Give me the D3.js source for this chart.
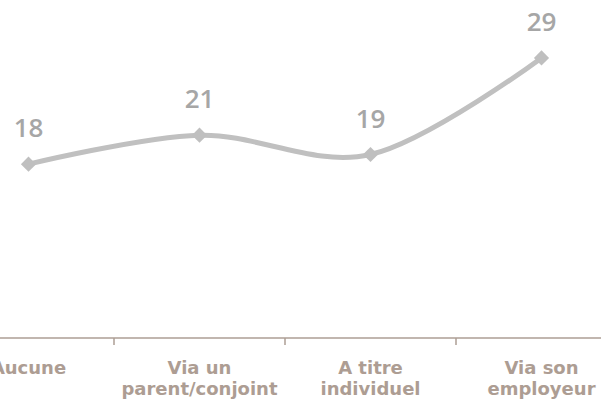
<!DOCTYPE html>
<html>
<head>
<meta charset="utf-8">
<script src="https://cdn.jsdelivr.net/npm/d3@7"></script>
<style>
  html, body { margin: 0; padding: 0; background: #ffffff; }
  svg { display: block; }
</style>
</head>
<body>
<div id="chart"></div>
<script>
const categories = [["Aucune"], ["Via un", "parent/conjoint"], ["A titre", "individuel"], ["Via son", "employeur"]];
const categoryKeys = ["Aucune", "Via un parent/conjoint", "A titre individuel", "Via son employeur"];
const values = [18, 21, 19, 29];

const W = 601, H = 405;
const svg = d3.select("#chart").append("svg").attr("width", W).attr("height", H);

const x = d3.scaleBand().domain(categoryKeys).range([-57, 627]).paddingInner(0).paddingOuter(0);
const y = d3.scaleLinear().domain([0, 35]).range([338, 0]);

// axis
const axisG = svg.append("g").attr("transform", "translate(0,338)");
axisG.append("line").attr("x1", 0).attr("x2", W).attr("y1", 0).attr("y2", 0)
  .attr("stroke", "#ad9e94").attr("stroke-width", 1.5);
const boundaries = categoryKeys.slice(1).map(k => x(k));
axisG.selectAll("line.tick").data(boundaries).join("line").attr("class", "tick")
  .attr("x1", d => d).attr("x2", d => d).attr("y1", 0).attr("y2", 7)
  .attr("stroke", "#ad9e94").attr("stroke-width", 1.5);

const labelG = svg.append("g");
categoryKeys.forEach((k, i) => {
  const cx = x(k) + x.bandwidth() / 2;
  categories[i].forEach((line, j) => {
    labelG.append("text")
      .attr("x", cx)
      .attr("y", 374 + j * 21)
      .attr("text-anchor", "middle")
      .attr("font-family", "'DejaVu Sans', sans-serif")
      .attr("font-weight", "bold")
      .attr("font-size", "18px")
      .attr("fill", "#ad9d93")
      .text(line);
  });
});

const pts = values.map((v, i) => [x(categoryKeys[i]) + x.bandwidth() / 2, y(v)]);

svg.append("path")
  .attr("d", d3.line().curve(d3.curveCardinal.tension(0))(pts))
  .attr("fill", "none").attr("stroke", "#c0c0c0").attr("stroke-width", 5);

svg.selectAll("path.marker").data(pts).join("path").attr("class", "marker")
  .attr("d", d3.symbol().type(d3.symbolSquare).size(115)())
  .attr("transform", d => `translate(${d[0]},${d[1]}) rotate(45)`)
  .attr("fill", "#bfbfbf");

svg.selectAll("text.val").data(values).join("text").attr("class", "val")
  .attr("x", (d, i) => pts[i][0])
  .attr("y", (d, i) => pts[i][1] - 27)
  .attr("text-anchor", "middle")
  .attr("font-family", "'Open Sans', sans-serif")
  .attr("font-weight", "600")
  .attr("font-size", "26px")
  .attr("fill", "#a6a6a6")
  .text(d => d);
</script>
</body>
</html>
